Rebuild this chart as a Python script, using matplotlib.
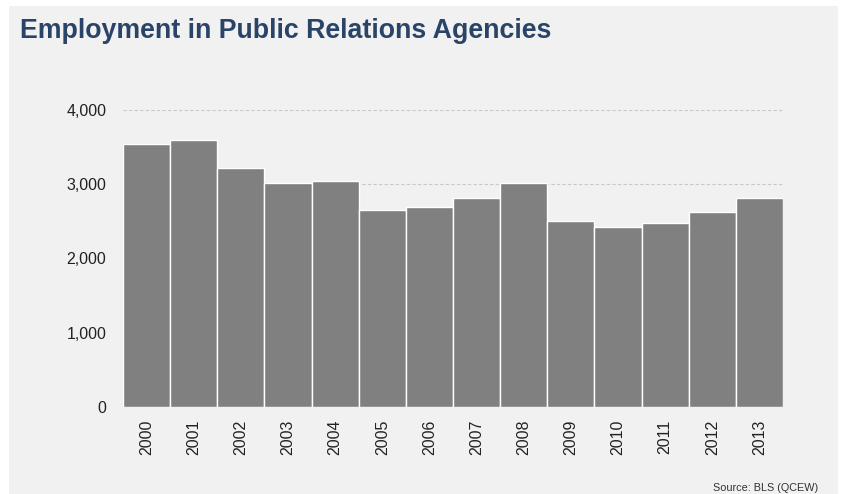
import matplotlib
matplotlib.use("Agg")
import matplotlib.pyplot as plt
from matplotlib.patches import Rectangle

years = ["2000", "2001", "2002", "2003", "2004", "2005", "2006",
         "2007", "2008", "2009", "2010", "2011", "2012", "2013"]
employment = [3535, 3595, 3213, 3010, 3045, 2655, 2690,
              2812, 3012, 2497, 2418, 2472, 2623, 2812]
yticks = [0, 1000, 2000, 3000, 4000]
ytick_labels = ["0", "1,000", "2,000", "3,000", "4,000"]

W, H = 841, 494
plt.rcParams['font.family'] = ['Liberation Sans', 'DejaVu Sans']
fig = plt.figure(figsize=(W / 100, H / 100), dpi=100)
fig.patch.set_facecolor("white")
bg = "#f1f1f1"
fig.patches.append(Rectangle((9 / W, -0.02), (838 - 9) / W, (H - 6) / H + 0.02,
                             transform=fig.transFigure, facecolor=bg,
                             edgecolor="none", zorder=-10))

ax = fig.add_axes([123 / W, 1 - 407 / H, (783 - 123) / W, (407 - 109.7) / H])
ax.set_facecolor(bg)
x = list(range(len(years)))
ax.bar(x, employment, width=1.0, color="#808080", edgecolor="white",
       linewidth=1.0, zorder=3)
ax.set_xlim(-0.5, len(years) - 0.5)
ax.set_ylim(0, 4000)
ax.set_yticks(yticks)
ax.set_yticklabels(ytick_labels, fontsize=11.5, color="#222222")
ax.set_xticks(x)
ax.set_xticklabels(years, rotation=90, fontsize=11.5, color="#222222")
ax.tick_params(axis="both", length=0)
ax.tick_params(axis="y", pad=12)
ax.tick_params(axis="x", pad=9)
for s in ax.spines.values():
    s.set_visible(False)
ax.yaxis.grid(True, linestyle=(0, (3, 2)), color="#c8c8c8", linewidth=0.8, zorder=0)
ax.set_axisbelow(True)

fig.text(20 / W, 1 - 31 / H, "Employment in Public Relations Agencies",
         fontsize=19.3, fontweight="bold", color="#2a4468", va="center", ha="left")
fig.text(818 / W, 1 - 488 / H, "Source: BLS (QCEW)", fontsize=7.8,
         color="#333333", ha="right", va="center")

fig.savefig("out.png", dpi=100, facecolor=fig.get_facecolor())
